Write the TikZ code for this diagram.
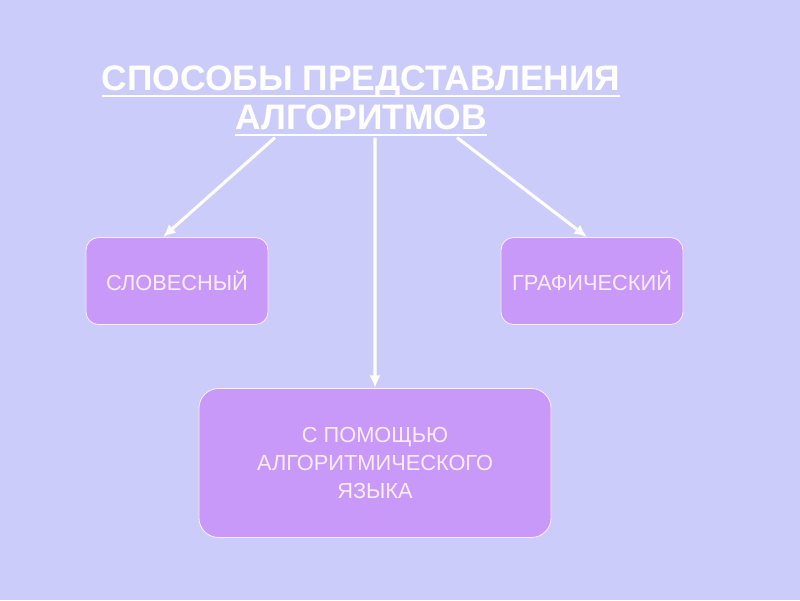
\documentclass[tikz,border=0pt]{standalone}
\usepackage{fontspec}
\setmainfont{Liberation Sans}
\usepackage{tikz}
\usetikzlibrary{arrows.meta,positioning}

\definecolor{bgpanel}{RGB}{204,204,250}
\definecolor{boxfill}{RGB}{201,153,250}
\definecolor{boxtext}{RGB}{252,236,250}

% thick underline for the heading
\newcommand{\thickul}[1]{\setbox0\hbox{#1}\rlap{\vrule width\wd0 height -3.2pt depth 4.8pt}\box0}

\tikzset{
  kind/.style={draw=boxtext, line width=0.6pt, fill=boxfill, rounded corners=9pt,
    text=boxtext, font=\fontsize{15.5}{20}\selectfont, align=center},
  link/.style={draw=white, line width=2.2pt, -{Latex[length=9pt,width=8pt]}}
}

\begin{document}
\begin{tikzpicture}[x=0.025cm, y=-0.025cm]
\fill[bgpanel] (0,0) rectangle (800,600);
\useasboundingbox (0,0) rectangle (800,600);
\node (title) [text=white, align=center, inner sep=0pt,
  font=\bfseries\fontsize{25.2}{27.5}\selectfont] at (361,101)
  {\thickul{СПОСОБЫ ПРЕДСТАВЛЕНИЯ}\\\thickul{АЛГОРИТМОВ}};
\node (verbal) [kind, minimum width=4.55cm, minimum height=2.175cm] at (177,281) {СЛОВЕСНЫЙ};
\node (graphic) [kind, minimum width=4.55cm, minimum height=2.175cm] at (592,281) {ГРАФИЧЕСКИЙ};
\node (lang) [kind, minimum width=8.8cm, minimum height=3.725cm, rounded corners=14pt] at (375,463)
  {С ПОМОЩЬЮ\\АЛГОРИТМИЧЕСКОГО\\ЯЗЫКА};
\draw[link] ([xshift=-2.15cm,yshift=-0.03cm]title.south) -- ([xshift=-0.35cm]verbal.north);
\draw[link] ([xshift=0.35cm,yshift=-0.03cm]title.south) -- (lang.north);
\draw[link] ([xshift=2.4cm,yshift=-0.03cm]title.south) -- ([xshift=-0.125cm]graphic.north);
\end{tikzpicture}
\end{document}
